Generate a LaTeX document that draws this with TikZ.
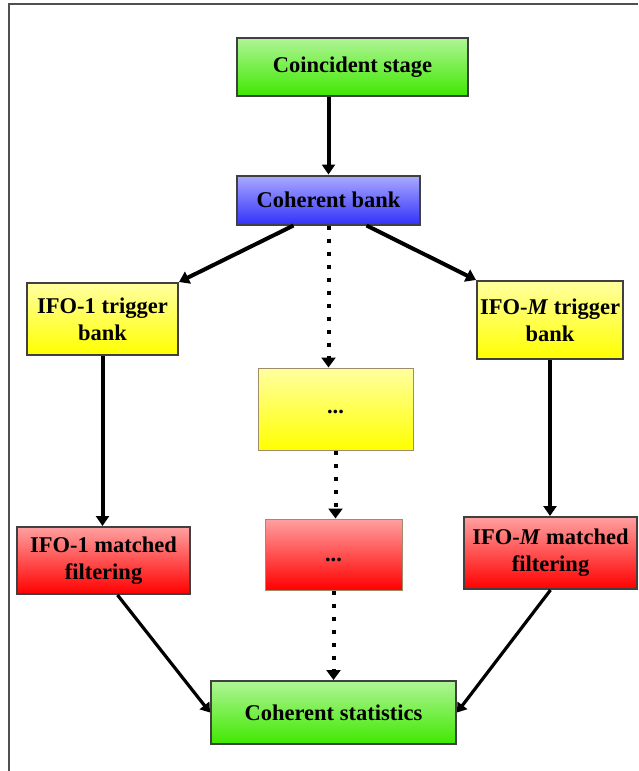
\documentclass[tikz,border=0pt]{standalone}
\usepackage{fontspec}
\setmainfont{Liberation Serif}
\usetikzlibrary{arrows.meta,calc}
\definecolor{bordergray}{HTML}{404040}
\definecolor{framegray}{HTML}{505050}
\definecolor{thinbrown}{HTML}{A08C6A}
\begin{document}
\begin{tikzpicture}[x=1pt,y=-1pt,
  box/.style={draw=bordergray, line width=2pt, align=center, inner sep=0pt,
    font=\fontsize{22.5}{27}\selectfont\bfseries, text=black},
  midbox/.style={draw=thinbrown, line width=1pt, align=center, inner sep=0pt,
    font=\fontsize{22.5}{27}\selectfont\bfseries, text=black},
  greenbox/.style={top color={rgb,255:red,175;green,245;blue,150}, bottom color={rgb,255:red,64;green,232;blue,0}},
  bluebox/.style={top color={rgb,255:red,170;green,170;blue,255}, bottom color={rgb,255:red,50;green,50;blue,250}},
  yellowbox/.style={top color={rgb,255:red,255;green,255;blue,160}, bottom color={rgb,255:red,255;green,255;blue,0}},
  redbox/.style={top color={rgb,255:red,255;green,160;blue,160}, bottom color={rgb,255:red,255;green,0;blue,0}},
  arr/.style={line width=4pt, -{Triangle[width=13pt,length=10pt]}},
  thinarr/.style={line width=3.2pt, -{Triangle[width=12pt,length=9pt]}},
  dotarr/.style={line width=4pt, dash pattern=on 4pt off 9pt, -{Triangle[width=14pt,length=10pt]}},
]
\useasboundingbox (0,0) rectangle (638,771);
\fill[white] (0,0) rectangle (638,771);
% partial frame
\coordinate (ftl) at (9,4);
\coordinate (ftr) at (638,4);
\coordinate (fbl) at (9,771);
\draw[framegray, line width=1.5pt] (fbl) -- (ftl) -- (ftr);

\node[box, greenbox, minimum width=231pt, minimum height=58pt] (cs) at (352.5,67) {Coincident stage};
\node[box, bluebox, minimum width=183pt, minimum height=49pt] (cb) at (328.5,200) {Coherent bank};
\node[box, yellowbox, minimum width=151pt, minimum height=72pt] (i1t) at (102.5,319) {IFO-1 trigger\\bank};
\node[box, yellowbox, minimum width=146pt, minimum height=78pt] (iMt) at (550,320) {IFO-\textit{M} trigger\\bank};
\node[midbox, yellowbox, minimum width=155pt, minimum height=82pt] (y1) at (335.5,409) {\smash{\raisebox{-4pt}{...}}};
\node[midbox, redbox, minimum width=137pt, minimum height=71pt] (r1) at (333.5,554.5) {\smash{\raisebox{-7pt}{...}}};
\node[box, redbox, minimum width=173pt, minimum height=67pt] (i1m) at (103.5,560.5) {IFO-1 matched\\filtering};
\node[box, redbox, minimum width=173pt, minimum height=72pt] (iMm) at (550.5,553) {IFO-\textit{M} matched\\filtering};
\node[box, greenbox, minimum width=245pt, minimum height=63pt] (st) at (333.5,712.5) {Coherent statistics};

\draw[arr] (cs.south -| cb.north) -- (cb.north);
\draw[arr] ($(cb.south)+(-35,0)$) -- (i1t.north east);
\draw[arr] ($(cb.south)+(38,0)$) -- (iMt.north west);
\draw[dotarr] (cb.south) -- (cb.south |- y1.north);
\draw[arr] (i1t.south) -- (i1t.south |- i1m.north);
\draw[arr] (iMt.south) -- (iMt.south |- iMm.north);
\draw[dotarr] (y1.south) -- (y1.south |- r1.north);
\draw[dotarr] (r1.south) -- (r1.south |- st.north);
\draw[thinarr] ($(i1m.south)+(14,0)$) -- (st.west);
\draw[thinarr] (iMm.south) -- (st.east);
\end{tikzpicture}
\end{document}
